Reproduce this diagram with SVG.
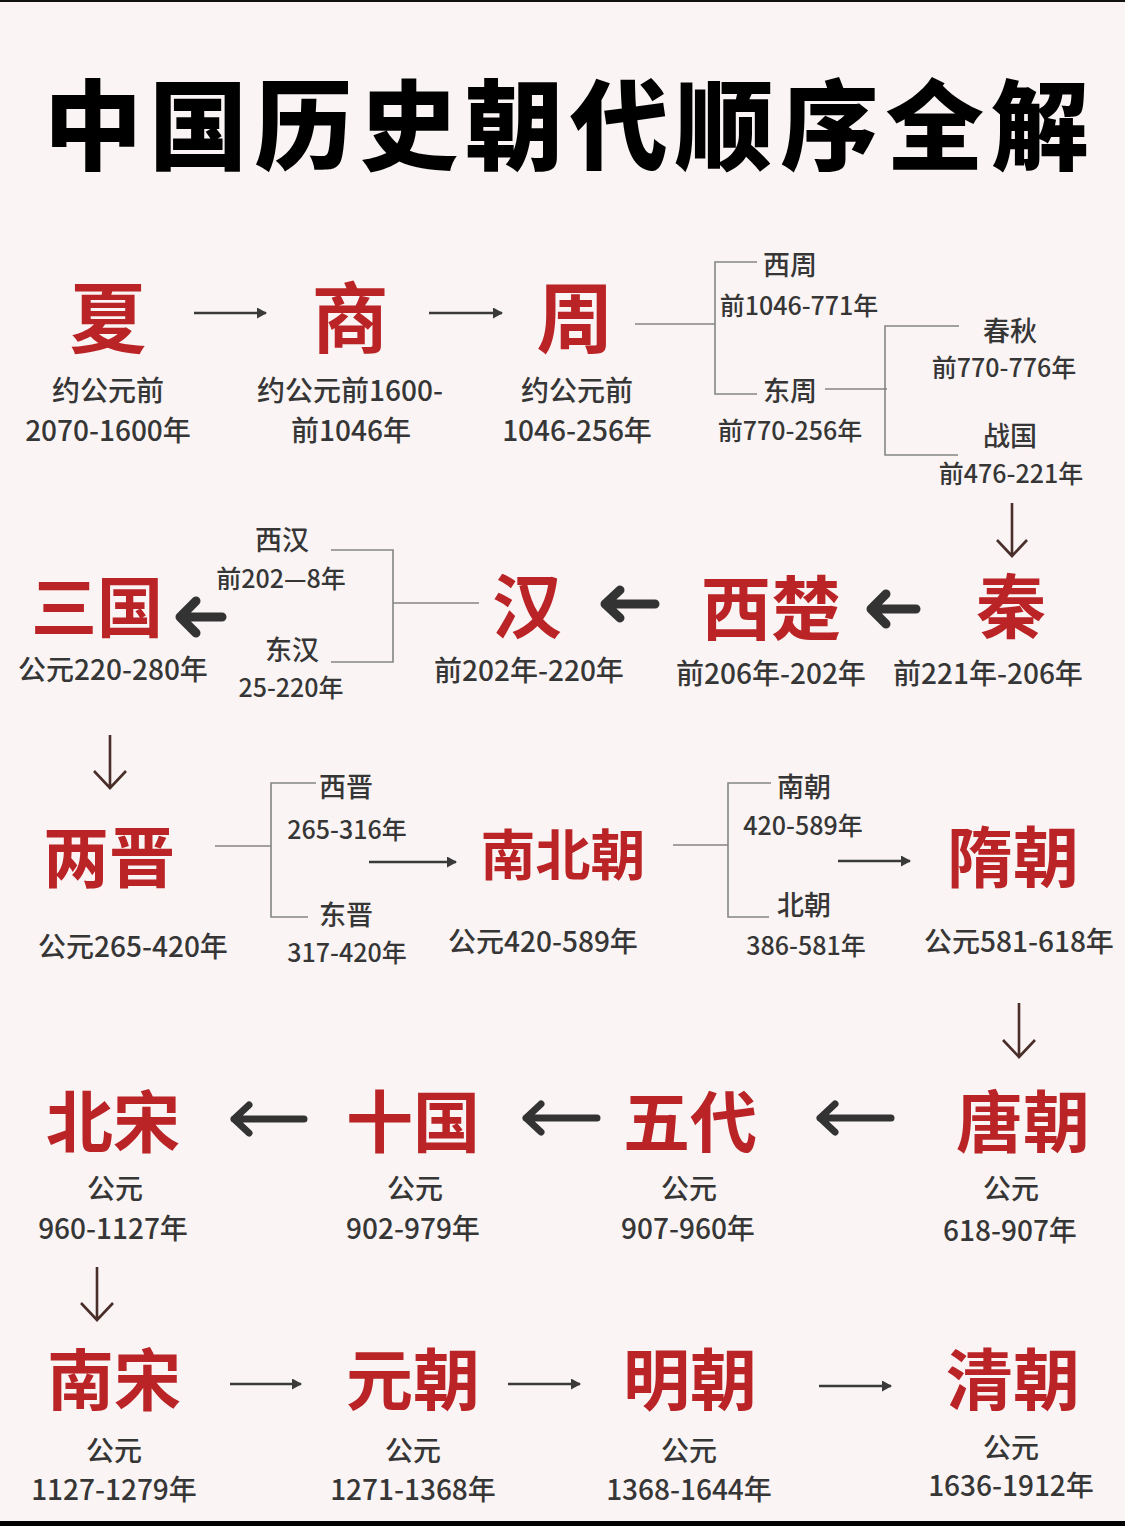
<svg xmlns="http://www.w3.org/2000/svg" width="1125" height="1526" viewBox="0 0 1125 1526">
<defs>
<style>
text{font-family:"Noto Sans CJK SC","Noto Sans",sans-serif;text-anchor:middle}
.title{font-size:98px;font-weight:900;fill:#000;text-anchor:start}
.big{font-weight:700;fill:#bb2426}
.r1{font-size:77px}.r2{font-size:70px}.r3{font-size:66px}.r4{font-size:67px}
.sub{font-size:28px;font-weight:500;fill:#363636}
.lab{font-size:27px;font-weight:500;fill:#363636}
.dt{font-size:25px;font-weight:500;fill:#363636}
.ln{fill:none;stroke:#858585;stroke-width:1.6}
.thin{fill:none;stroke:#3a3a3a;stroke-width:2.5}
.bold{fill:none;stroke:#333;stroke-width:9;stroke-linecap:round;stroke-linejoin:round}
.bold7{fill:none;stroke:#333;stroke-width:7;stroke-linecap:round;stroke-linejoin:round}
.down{fill:none;stroke:#4a2e29;stroke-width:2.6}
</style>
<marker id="ah" viewBox="0 0 10 11" refX="9" refY="5.5" markerWidth="10" markerHeight="11" markerUnits="userSpaceOnUse" orient="auto">
<path d="M0,0 L10,5.5 L0,11 z" fill="#3a3a3a"/>
</marker>
</defs>
<rect x="0" y="0" width="1125" height="1526" fill="#faf4f4"/>
<rect x="0" y="0" width="1125" height="2" fill="#111"/>
<rect x="0" y="1521" width="1125" height="5" fill="#000"/>
<text class="title" x="44" y="162" textLength="1045" lengthAdjust="spacing">中国历史朝代顺序全解</text>

<g id="connectors">
<line class="thin" x1="194" y1="313" x2="266" y2="313" marker-end="url(#ah)"/>
<line class="thin" x1="429" y1="313" x2="502" y2="313" marker-end="url(#ah)"/>
<path class="ln" d="M635 324 H715"/>
<path class="ln" d="M757 262 H715 V394 H757"/>
<path class="ln" d="M825 389 H887"/>
<path class="ln" d="M959 326 H885 V455 H958"/>
<path class="down" d="M1012 503 V555 M997 540 L1012 556 L1027 540"/>
<path class="bold" d="M871 609 H916 M886 594 L871 609 L886 624"/>
<path class="bold" d="M605 604 H655 M620 590 L605 604 L620 618"/>
<path class="ln" d="M393 603 H479"/>
<path class="ln" d="M331 550 H393 V662 H331"/>
<path class="bold" d="M180 617 H222 M196 601 L180 617 L196 633"/>
<path class="down" d="M110 735 V787 M94 771 L110 788 L126 771"/>
<path class="ln" d="M215 846 H271"/>
<path class="ln" d="M316 783 H271 V917 H308"/>
<line class="thin" x1="369" y1="862" x2="456" y2="862" marker-end="url(#ah)"/>
<path class="ln" d="M673 845 H728"/>
<path class="ln" d="M771 783 H728 V917 H769"/>
<line class="thin" x1="838" y1="861" x2="910" y2="861" marker-end="url(#ah)"/>
<path class="down" d="M1019 1003 V1056 M1003 1040 L1019 1057 L1035 1040"/>
<path class="bold7" d="M820 1118 H891 M835 1104 L820 1118 L835 1132"/>
<path class="bold7" d="M526 1118 H597 M541 1104 L526 1118 L541 1132"/>
<path class="bold7" d="M234 1119 H304 M249 1105 L234 1119 L249 1133"/>
<path class="down" d="M97 1267 V1319 M81 1303 L97 1320 L113 1303"/>
<line class="thin" x1="230" y1="1384" x2="301" y2="1384" marker-end="url(#ah)"/>
<line class="thin" x1="508" y1="1384" x2="580" y2="1384" marker-end="url(#ah)"/>
<line class="thin" x1="819" y1="1386" x2="891" y2="1386" marker-end="url(#ah)"/>
</g>

<g id="xia"><text class="big r1" x="108" y="347">夏</text><text class="sub" x="108" y="401">约公元前</text><text class="sub" x="108" y="441">2070-1600年</text></g>
<g id="shang"><text class="big r1" x="350" y="347">商</text><text class="sub" x="350" y="401">约公元前1600-</text><text class="sub" x="351" y="441">前1046年</text></g>
<g id="zhou"><text class="big r1" x="575" y="347">周</text><text class="sub" x="577" y="401">约公元前</text><text class="sub" x="577" y="441">1046-256年</text></g>
<g id="xizhou"><text class="lab" x="790" y="275">西周</text><text class="dt" x="799" y="315">前1046-771年</text></g>
<g id="dongzhou"><text class="lab" x="790" y="401">东周</text><text class="dt" x="790" y="440">前770-256年</text></g>
<g id="chunqiu"><text class="lab" x="1010" y="341">春秋</text><text class="dt" x="1004" y="377">前770-776年</text></g>
<g id="zhanguo"><text class="lab" x="1010" y="446">战国</text><text class="dt" x="1011" y="483">前476-221年</text></g>

<g id="qin"><text class="big r2" x="1011" y="633">秦</text><text class="sub" x="988" y="684">前221年-206年</text></g>
<g id="xichu"><text class="big r2" x="771" y="635">西楚</text><text class="sub" x="771" y="684">前206年-202年</text></g>
<g id="han"><text class="big r2" x="527" y="633">汉</text><text class="sub" x="529" y="681">前202年-220年</text></g>
<g id="xihan"><text class="lab" x="282" y="550">西汉</text><text class="dt" x="281" y="588">前202—8年</text></g>
<g id="donghan"><text class="lab" x="292" y="660">东汉</text><text class="dt" x="291" y="697">25-220年</text></g>
<g id="sanguo"><text class="big r3" x="97" y="632">三国</text><text class="sub" x="113" y="680">公元220-280年</text></g>

<g id="liangjin"><text class="big r3" x="109" y="882">两晋</text><text class="sub" x="133" y="957">公元265-420年</text></g>
<g id="xijin"><text class="lab" x="346" y="797">西晋</text><text class="dt" x="347" y="839">265-316年</text></g>
<g id="dongjin"><text class="lab" x="346" y="925">东晋</text><text class="dt" x="347" y="962">317-420年</text></g>
<g id="nanbeichao"><text class="big" style="font-size:55px" x="563" y="875">南北朝</text><text class="sub" x="543" y="952">公元420-589年</text></g>
<g id="nanchao"><text class="lab" x="804" y="797">南朝</text><text class="dt" x="803" y="835">420-589年</text></g>
<g id="beichao"><text class="lab" x="804" y="915">北朝</text><text class="dt" x="806" y="955">386-581年</text></g>
<g id="suichao"><text class="big r3" x="1013" y="882">隋朝</text><text class="sub" x="1019" y="952">公元581-618年</text></g>

<g id="tangchao"><text class="big r4" x="1023" y="1147">唐朝</text><text class="sub" x="1011" y="1199">公元</text><text class="sub" x="1010" y="1241">618-907年</text></g>
<g id="wudai"><text class="big r4" x="690" y="1147">五代</text><text class="sub" x="689" y="1199">公元</text><text class="sub" x="688" y="1239">907-960年</text></g>
<g id="shiguo"><text class="big r4" x="413" y="1147">十国</text><text class="sub" x="415" y="1199">公元</text><text class="sub" x="413" y="1239">902-979年</text></g>
<g id="beisong"><text class="big r4" x="113" y="1147">北宋</text><text class="sub" x="115" y="1199">公元</text><text class="sub" x="113" y="1239">960-1127年</text></g>

<g id="nansong"><text class="big r4" x="114" y="1405">南宋</text><text class="sub" x="114" y="1461">公元</text><text class="sub" x="114" y="1500">1127-1279年</text></g>
<g id="yuanchao"><text class="big r4" x="413" y="1405">元朝</text><text class="sub" x="413" y="1461">公元</text><text class="sub" x="413" y="1500">1271-1368年</text></g>
<g id="mingchao"><text class="big r4" x="690" y="1405">明朝</text><text class="sub" x="689" y="1461">公元</text><text class="sub" x="689" y="1500">1368-1644年</text></g>
<g id="qingchao"><text class="big r4" x="1013" y="1405">清朝</text><text class="sub" x="1011" y="1458">公元</text><text class="sub" x="1011" y="1496">1636-1912年</text></g>
</svg>
